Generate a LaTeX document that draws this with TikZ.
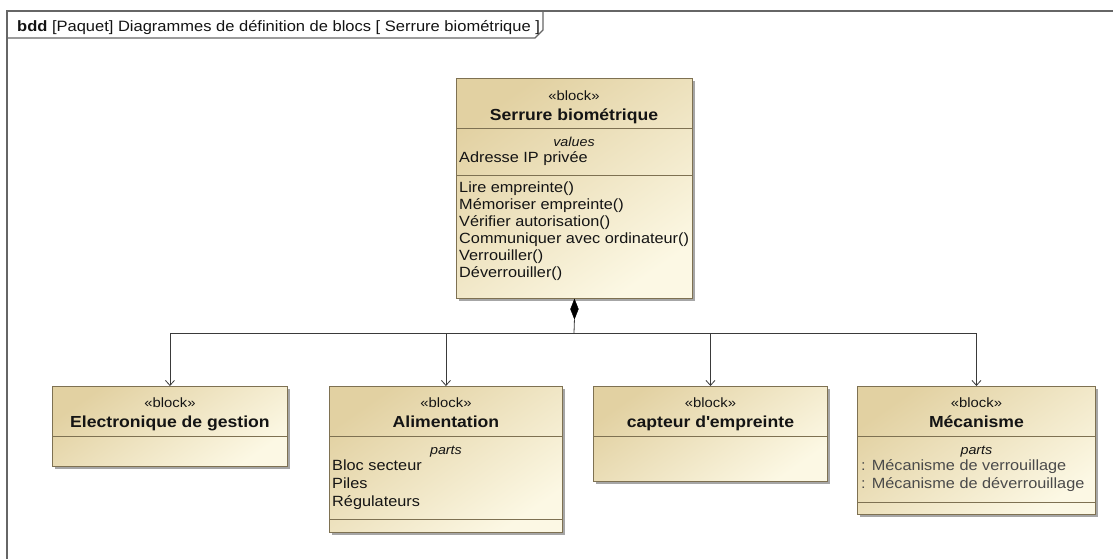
\documentclass[tikz,border=0pt]{standalone}
\usepackage{fontspec}
\setmainfont{Liberation Sans}[FakeStretch=1.1]
\usetikzlibrary{shapes.geometric,arrows.meta,shadows}
\definecolor{blktop}{HTML}{E2D1A2}
\definecolor{blkbot}{HTML}{FCF8E4}
\definecolor{blkborder}{HTML}{7E7152}
\definecolor{txtcol}{HTML}{141414}
\definecolor{graytxt}{HTML}{4A4A4A}
\definecolor{framecol}{HTML}{666666}
\definecolor{conncol}{HTML}{3A3A3A}
\begin{document}
\begin{tikzpicture}[x=1pt,y=-1pt,
  blockbox/.style={draw=blkborder, line width=0.9pt, top color=blktop, bottom color=blkbot, shading angle=35,
    drop shadow={shadow xshift=3pt, shadow yshift=-3pt, fill=black!35, opacity=1},
    anchor=north west, inner sep=0pt},
  divider/.style={draw=blkborder, line width=0.8pt},
  stereo/.style={font=\fontsize{13.5}{15}\selectfont, text=txtcol, inner sep=0pt, anchor=base},
  bname/.style={font=\fontsize{16}{18}\selectfont\bfseries, text=txtcol, inner sep=0pt, anchor=base},
  comptitle/.style={font=\fontsize{13}{15}\selectfont\itshape, text=txtcol, inner sep=0pt, anchor=base},
  feature/.style={font=\fontsize{14.8}{17}\selectfont, text=txtcol, inner sep=0pt, anchor=base west},
  grayfeature/.style={feature, text=graytxt},
  conn/.style={draw=conncol, line width=0.8pt},
  arrowconn/.style={conn, -{Straight Barb[length=5pt, width=9pt, line width=0.8pt]}},
  framebox/.style={draw=framecol, line width=1.3pt},
  headtxt/.style={font=\fontsize{15}{17}\selectfont, text=txtcol, inner sep=0pt, anchor=base west}
]
\useasboundingbox (0,0) rectangle (1113,558);
\fill[white] (0,0) rectangle (1113,558);

% frame
\draw[framebox] (7,11) rectangle (1130,580);
\draw[framebox] (7,38) -- (535,38) -- (543,30) -- (543,11);
\node[headtxt] (hdr) at (17,31) {\textbf{bdd} [Paquet] Diagrammes de définition de blocs [ Serrure biométrique ]};

% main block
\node[blockbox, minimum width=236pt, minimum height=220pt] (main) at (456,78) {};
\draw[divider] (456,128) -- (692,128);
\draw[divider] (456,175) -- (692,175);
\node[stereo] (mst) at (574,100) {«block»};
\node[bname] (mnm) at (574,120) {Serrure biométrique};
\node[comptitle] (mval) at (574,146) {values};
\node[feature] (mip) at (459,162) {Adresse IP privée};
\node[feature] (op1) at (459,192) {Lire empreinte()};
\node[feature] (op2) at (459,209) {Mémoriser empreinte()};
\node[feature] (op3) at (459,226) {Vérifier autorisation()};
\node[feature] (op4) at (459,243) {Communiquer avec ordinateur()};
\node[feature] (op5) at (459,260) {Verrouiller()};
\node[feature] (op6) at (459,277) {Déverrouiller()};

% child blocks
\node[blockbox, minimum width=235pt, minimum height=80pt] (b1) at (52,386) {};
\draw[divider] (52,436) -- (287,436);
\node[stereo] at (b1.north |- 0,407) {«block»};
\node[bname] at (b1.north |- 0,427) {Electronique de gestion};

\node[blockbox, minimum width=233pt, minimum height=146pt] (b2) at (329,386) {};
\draw[divider] (329,436) -- (562,436);
\draw[divider] (329,519) -- (562,519);
\node[stereo] at (b2.north |- 0,407) {«block»};
\node[bname] at (b2.north |- 0,427) {Alimentation};
\node[comptitle] at (b2.north |- 0,454) {parts};
\node[feature] at (332,470) {Bloc secteur};
\node[feature] at (332,488) {Piles};
\node[feature] at (332,506) {Régulateurs};

\node[blockbox, minimum width=234pt, minimum height=95pt] (b3) at (593,386) {};
\draw[divider] (593,436) -- (827,436);
\node[stereo] at (b3.north |- 0,407) {«block»};
\node[bname] at (b3.north |- 0,427) {capteur d{\XeTeXglyph\XeTeXcharglyph"0027}empreinte};

\node[blockbox, minimum width=238pt, minimum height=128pt] (b4) at (857,386) {};
\draw[divider] (857,436) -- (1095,436);
\draw[divider] (857,502) -- (1095,502);
\node[stereo] at (b4.north |- 0,407) {«block»};
\node[bname] at (b4.north |- 0,427) {Mécanisme};
\node[comptitle] at (b4.north |- 0,454) {parts};
\node[grayfeature] at (861,470) {: Mécanisme de verrouillage};
\node[grayfeature] at (861,488) {: Mécanisme de déverrouillage};

% composition
\node[diamond, fill=black, draw=black, inner sep=0pt, minimum width=8pt, minimum height=20pt, anchor=north] (dia) at (main.south) {};
\coordinate (bus) at (574,333);
\draw[conn] (dia.south) -- (bus);
\draw[arrowconn] (bus) -| (b1.north);
\draw[arrowconn] (bus) -| (b2.north);
\draw[arrowconn] (bus) -| (b3.north);
\draw[arrowconn] (bus) -| (b4.north);
\end{tikzpicture}
\end{document}
